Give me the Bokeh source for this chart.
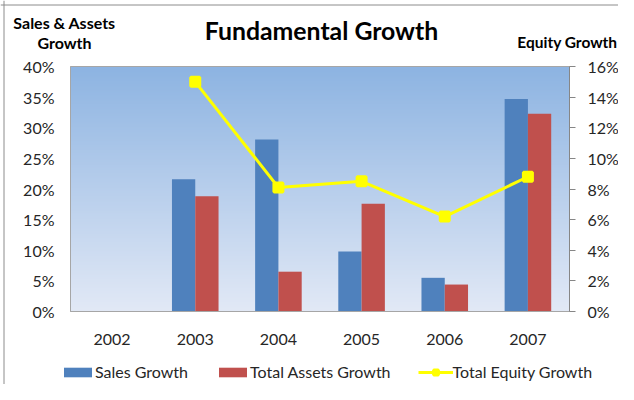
import numpy as np
from bokeh.plotting import figure
from bokeh.models import (Range1d, LinearAxis, FixedTicker, NumeralTickFormatter,
                          Label, Legend, LegendItem, ColumnDataSource, Span)
from bokeh.transform import dodge
from bokeh.embed import file_html
from bokeh.resources import INLINE

# ---- data ----
years = ["2002", "2003", "2004", "2005", "2006", "2007"]
sales_growth = [None, 0.216, 0.281, 0.098, 0.055, 0.347]
assets_growth = [None, 0.188, 0.065, 0.176, 0.044, 0.323]
equity_growth = [None, 0.150, 0.081, 0.085, 0.062, 0.088]
left_ticks = [0.0, 0.05, 0.10, 0.15, 0.20, 0.25, 0.30, 0.35, 0.40]
right_ticks = [0.0, 0.02, 0.04, 0.06, 0.08, 0.10, 0.12, 0.14, 0.16]
title_text = "Fundamental Growth"
left_title = ["Sales & Assets", "Growth"]
right_title = "Equity Growth"

FONT = "Lato"
TXT = "#262626"
GRAY = "#A6A6A6"

# ---- canvas / plot-area geometry (pixels) ----
W, H = 618, 384
PL, PR, PT, PB = 70, 569, 66, 311   # plot-area edges inside canvas

ncat = len(years)
x0, x1 = -0.5, ncat - 0.5
ppx = (PR - PL) / (x1 - x0)
ly0, ly1 = left_ticks[0], left_ticks[-1]
ry0, ry1 = right_ticks[0], right_ticks[-1]
ppl = (PB - PT) / (ly1 - ly0)
ppr = (PB - PT) / (ry1 - ry0)

def arr(v):
    return np.array([np.nan if x is None else x for x in v], dtype=float)

src = ColumnDataSource(dict(xi=list(range(ncat)), sales=arr(sales_growth),
                            assets=arr(assets_growth), equity=arr(equity_growth)))

p = figure(width=W, height=H, output_backend="svg", toolbar_location=None,
           x_range=Range1d(x0 - PL / ppx, x1 + (W - PR) / ppx),
           y_range=Range1d(ly0 - (H - PB) / ppl, ly1 + PT / ppl),
           min_border=0, x_axis_location=None, y_axis_location=None)
p.title.visible = False
p.extra_y_ranges = {"eq": Range1d(ry0 - (H - PB) / ppr, ry1 + PT / ppr)}
p.background_fill_color = "white"
p.border_fill_color = "white"
p.outline_line_color = None
p.grid.visible = False

# outer chart border (left and top edges)
p.add_layout(Span(location=3.5, location_units="screen", dimension="height",
                  line_color="#8C8C8C", line_width=1))
p.add_layout(Span(location=H - 4.5, location_units="screen", dimension="width",
                  line_color="#8C8C8C", line_width=1))

# gradient background of plot area
n = 256
img = np.empty((n, 1), dtype=np.uint32)
view = img.view(dtype=np.uint8).reshape((n, 1, 4))
top = np.array([141, 180, 226])
bot = np.array([226, 233, 246])
for i in range(n):
    t = i / (n - 1)
    c = bot + (top - bot) * t
    view[i, 0, 0:3] = c.astype(np.uint8)
    view[i, 0, 3] = 255
p.image_rgba(image=[img], x=x0, y=ly0, dw=x1 - x0, dh=ly1 - ly0, level="image")
p.quad(left=x0, right=x1, bottom=ly0, top=ly1, fill_color=None,
       line_color=GRAY, line_width=1)

w = 0.28
r_sales = p.vbar(x=dodge("xi", -w / 2), top="sales", width=w,
                 source=src, color="#4F81BD", line_color=None)
r_assets = p.vbar(x=dodge("xi", w / 2), top="assets", width=w,
                  source=src, color="#C0504D", line_color=None)
r_line = p.line(x="xi", y="equity", source=src, y_range_name="eq",
                line_color="#FFFF00", line_width=3)
r_pts = p.scatter(x="xi", y="equity", source=src, y_range_name="eq",
                  marker="square", size=9, fill_color="#FFFF00",
                  line_color="#FFFF00", line_width=3)

# axes (fixed at the plot-area edges)
la = LinearAxis(ticker=FixedTicker(ticks=left_ticks),
                formatter=NumeralTickFormatter(format="0%"),
                fixed_location=x0, bounds=(ly0, ly1))
la.major_tick_out = 0
la.major_tick_in = 0
la.minor_tick_line_color = None
la.axis_line_color = GRAY
la.major_label_standoff = 16
la.major_label_text_font = FONT
la.major_label_text_font_size = "16px"
la.major_label_text_color = TXT
p.add_layout(la, "left")

ra = LinearAxis(y_range_name="eq", ticker=FixedTicker(ticks=right_ticks),
                formatter=NumeralTickFormatter(format="0%"),
                fixed_location=x1, bounds=(ry0, ry1))
ra.major_tick_out = 6
ra.major_tick_in = 0
ra.major_tick_line_color = "#868686"
ra.minor_tick_line_color = None
ra.axis_line_color = "#868686"
ra.major_label_standoff = 12
ra.major_label_text_font = FONT
ra.major_label_text_font_size = "16px"
ra.major_label_text_color = TXT
p.add_layout(ra, "right")

xa = LinearAxis(ticker=FixedTicker(ticks=list(range(ncat))),
                major_label_overrides={i: y for i, y in enumerate(years)},
                fixed_location=ly0, bounds=(x0, x1))
xa.major_tick_line_color = None
xa.minor_tick_line_color = None
xa.axis_line_color = GRAY
xa.major_label_standoff = 16
xa.major_label_text_font = FONT
xa.major_label_text_font_size = "16px"
xa.major_label_text_color = TXT
p.add_layout(xa, "below")

# titles
def lab(x, y, text, size, align):
    return Label(x=x, y=H - y, x_units="screen", y_units="screen", text=text,
                 text_font=FONT, text_font_size=size, text_font_style="bold",
                 text_align=align, text_baseline="middle", text_color="black")

p.add_layout(lab(321, 30, title_text, "24.8px", "center"))
p.add_layout(lab(64, 22, left_title[0], "16px", "center"))
p.add_layout(lab(64, 42, left_title[1], "16px", "center"))
p.add_layout(lab(617, 41, right_title, "15.5px", "right"))

legend = Legend(items=[LegendItem(label="Sales Growth", renderers=[r_sales]),
                       LegendItem(label="Total Assets Growth", renderers=[r_assets]),
                       LegendItem(label="Total Equity Growth", renderers=[r_line, r_pts])],
                orientation="horizontal", location=(60, 3),
                glyph_width=35, glyph_height=12, spacing=27, padding=0, margin=0,
                label_standoff=0, label_text_font=FONT, label_text_font_size="16px",
                label_text_color=TXT, label_height=18,
                border_line_color=None, background_fill_alpha=0)
p.add_layout(legend, "center")

open("out.html", "w").write(file_html(p, INLINE))
